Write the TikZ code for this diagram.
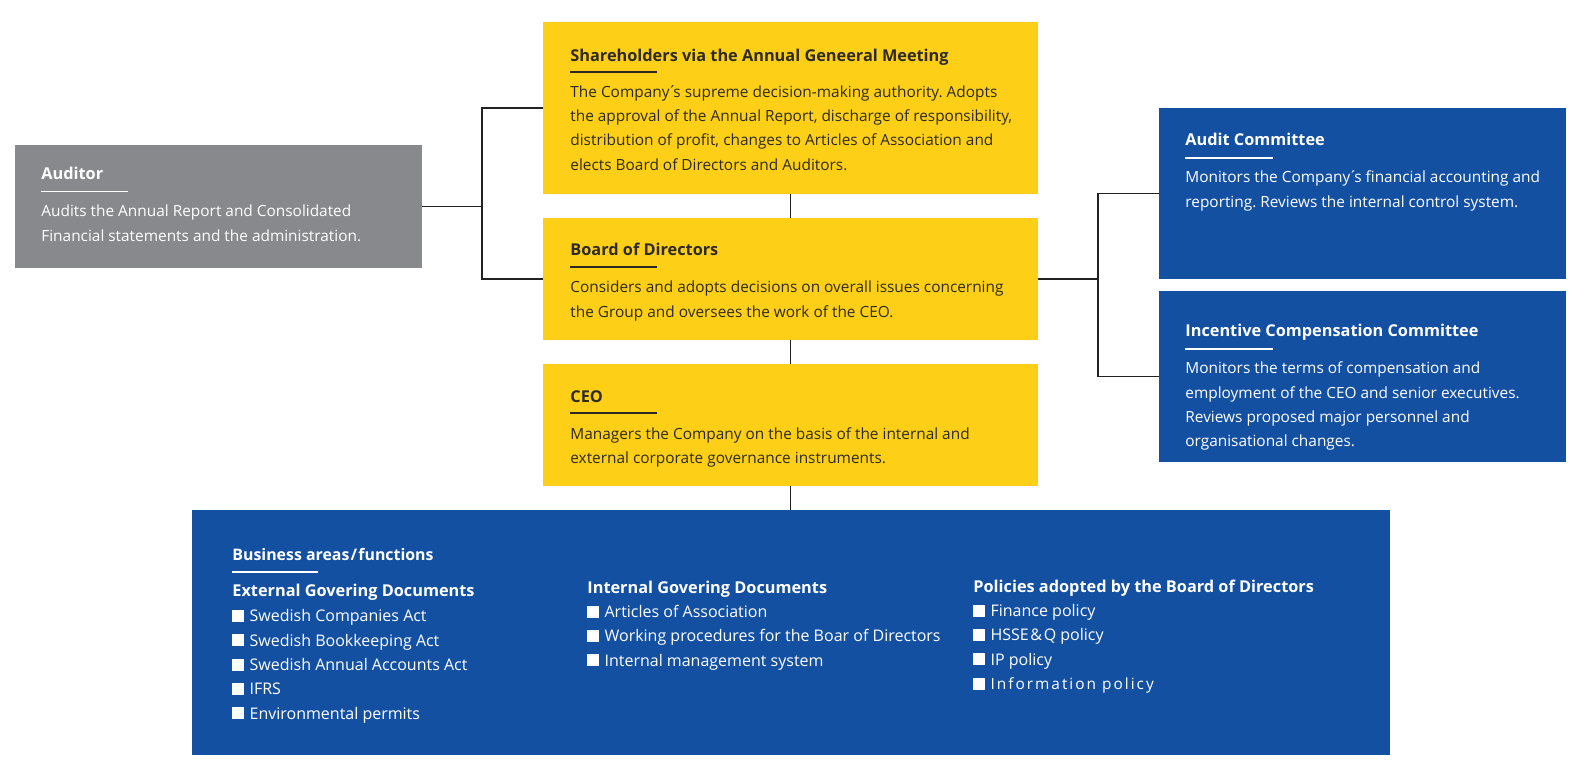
\documentclass[tikz,border=0pt]{standalone}
\usepackage{fontspec}
\setmainfont{Open Sans}
\frenchspacing
\definecolor{yel}{HTML}{FDD017}
\definecolor{blu}{HTML}{1350A2}
\definecolor{gry}{HTML}{87898C}
\definecolor{dtxt}{HTML}{2E2A22}
\definecolor{linec}{HTML}{222222}
\newcommand\sqb{\rule{6pt}{6pt}\hspace{2.6pt}}
\newcommand\apo{\kern-0.9pt´\kern-1.6pt}
\begin{document}
\begin{tikzpicture}[x=0.5pt,y=-0.5pt,
  box/.style={inner sep=0pt, outer sep=0pt, anchor=north west, draw=none},
  ybox/.style={box, fill=yel},
  bbox/.style={box, fill=blu},
  gbox/.style={box, fill=gry},
  ttl/.style={anchor=base west, inner sep=0pt, font=\fontsize{8.15}{9}\selectfont\bfseries},
  ttlb/.style={ttl, font=\fontsize{8.15}{9}\selectfont\bfseries},
  body/.style={anchor=base west, inner sep=0pt, align=left, font=\fontsize{7.7}{12.15}\selectfont},
  list/.style={anchor=base west, inner sep=0pt, align=left, font=\fontsize{8}{12.2}\selectfont},
  ul/.style={line width=0.55pt},
  conn/.style={line width=0.6pt, draw=linec}]
\useasboundingbox (0,0) rectangle (1582,774);
% boxes
\node[ybox, minimum width=247.5pt, minimum height=86pt] (sh) at (543,22) {};
\node[ybox, minimum width=247.5pt, minimum height=61pt] (bd) at (543,218) {};
\node[ybox, minimum width=247.5pt, minimum height=61pt] (ceo) at (543,364) {};
\node[gbox, minimum width=203.5pt, minimum height=61.5pt] (aud) at (15,145) {};
\node[bbox, minimum width=203.5pt, minimum height=85.5pt] (ac) at (1159,108) {};
\node[bbox, minimum width=203.5pt, minimum height=85.5pt] (icc) at (1159,291) {};
\node[bbox, minimum width=599pt, minimum height=122.5pt] (ba) at (192,510) {};
% connectors
\coordinate (lj) at (482,206.5);
\coordinate (rj) at (1098,279);
\draw[conn] (aud.east) -- (lj);
\draw[conn] (sh.west) -| (lj) |- (bd.west);
\draw[conn] (bd.east) -- (rj);
\draw[conn] (ac.west) -| (rj) |- (icc.west);
\draw[conn] (sh.south) -- (bd.north);
\draw[conn] (bd.south) -- (ceo.north);
\draw[conn] (ceo.south) -- (ceo.south |- ba.north);
% yellow texts (body nodes anchored at the baseline of their last line)
\begin{scope}[text=dtxt]
\node[ttl] (shT) at (570,62) {Shareholders via the Annual Geneeral Meeting};
\node[body] (shB) at (570,170.2) {The Company\apo s supreme decision-making authority. Adopts\\the approval of the Annual Report, discharge of responsibility,\\distribution of profit, changes to Articles of Association and\\elects Board of Directors and Auditors.};
\node[ttl] (bdT) at (570,256) {Board of Directors};
\node[body] (bdB) at (570,317.3) {Considers and adopts decisions on overall issues concerning\\the Group and oversees the work of the CEO.};
\node[ttl] (ceoT) at (570,402) {CEO};
\node[body] (ceoB) at (570,463.8) {Managers the Company on the basis of the internal and\\external corporate governance instruments.};
\end{scope}
\draw[ul, dtxt] ([yshift=-5pt]shT.base west) -- ++(87,0);
\draw[ul, dtxt] ([yshift=-5.5pt]bdT.base west) -- ++(87,0);
\draw[ul, dtxt] ([yshift=-5.5pt]ceoT.base west) -- ++(87,0);
% white texts
\begin{scope}[text=white]
\node[ttl] (audT) at (41,180) {Auditor};
\node[body] (audB) at (41,241.3) {Audits the Annual Report and Consolidated\\Financial statements and the administration.};
\node[ttl] (acT) at (1185,146) {Audit Committee};
\node[body] (acB) at (1185,207.3) {Monitors the Company\apo s financial accounting and\\reporting. Reviews the internal control system.};
\node[ttl] (iccT) at (1185,337) {Incentive Compensation Committee};
\node[body] (iccB) at (1185,446.9) {Monitors the terms of compensation and\\employment of the CEO and senior executives.\\Reviews proposed major personnel and\\organisational changes.};
\node[ttl, font=\fontsize{7.95}{9}\selectfont\bfseries] (baT) at (232,560) {Business areas\kern0.6pt/\kern0.6pt functions};
\node[ttlb] (exT) at (232,596) {External Govering Documents};
\node[list] (exB) at (232,719.3) {\sqb Swedish Companies Act\\\sqb Swedish Bookkeeping Act\\\sqb Swedish Annual Accounts Act\\\sqb IFRS\\\sqb Environmental permits};
\node[ttlb] (inT) at (587,593) {Internal Govering Documents};
\node[list] (inB) at (587,666.3) {\sqb Articles of Association\\\sqb Working procedures for the Boar of Directors\\\sqb Internal management system};
\node[ttlb] (poT) at (973,592) {Policies adopted by the Board of Directors};
\node[list] (poB) at (973,689.7) {\sqb Finance policy\\\sqb HSSE\kern0.8pt\&\kern0.8pt Q policy\\\sqb IP policy\\\sqb {\fontsize{7.7}{12.2}\selectfont\addfontfeatures{LetterSpace=13}Information policy}};
\end{scope}
\draw[ul, white] ([yshift=-5.75pt]audT.base west) -- ++(87,0);
\draw[ul, white] ([yshift=-6pt]acT.base west) -- ++(88,0);
\draw[ul, white] ([yshift=-6pt]iccT.base west) -- ++(88,0);
\draw[ul, white] ([yshift=-6pt]baT.base west) -- ++(86,0);
\end{tikzpicture}
\end{document}
